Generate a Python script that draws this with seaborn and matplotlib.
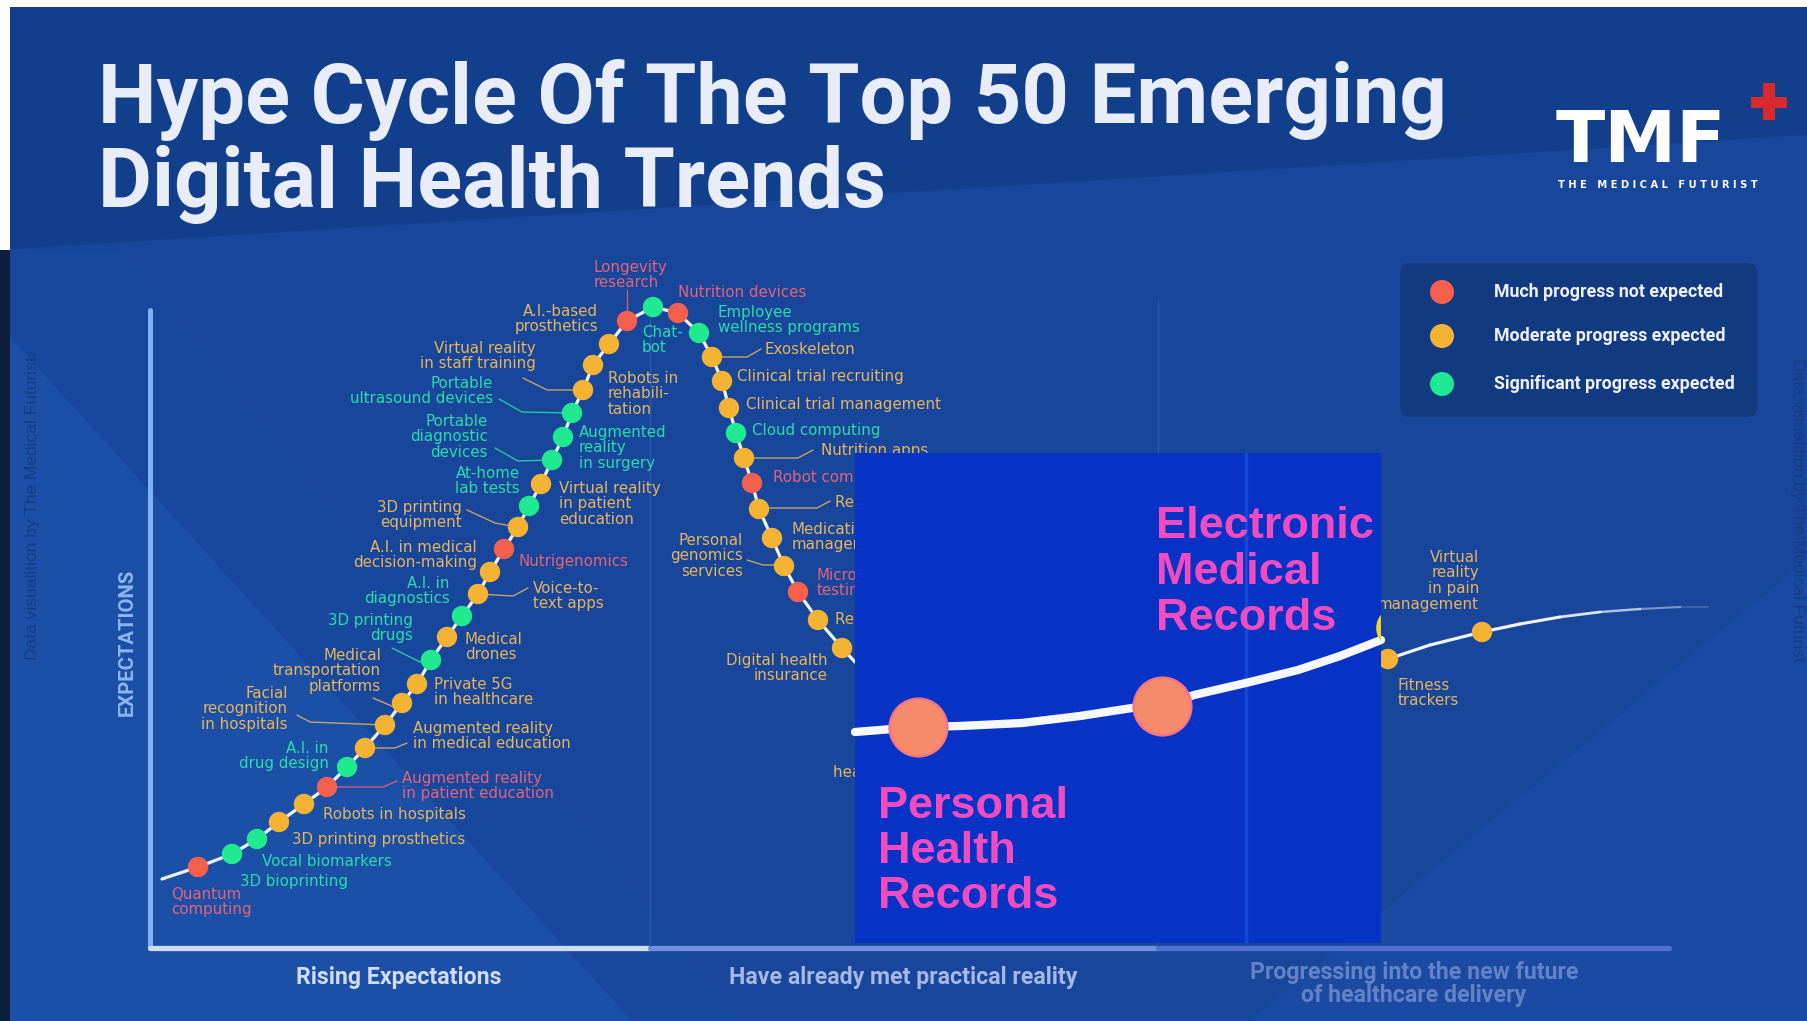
import numpy as np
import pandas as pd
import seaborn as sns
import matplotlib.pyplot as plt
from matplotlib.patches import Polygon, FancyBboxPatch, Rectangle
from matplotlib.collections import LineCollection

W, H = 1807, 1021

# --- trends on the hype curve (positions, image pixel space) ---
trend_names = [
    "Quantum computing", "3D bioprinting", "Vocal biomarkers", "3D printing prosthetics",
    "Robots in hospitals", "Augmented reality in patient education", "A.I. in drug design",
    "Augmented reality in medical education", "Facial recognition in hospitals",
    "Medical transportation platforms", "Private 5G in healthcare", "3D printing drugs",
    "Medical drones", "A.I. in diagnostics", "Voice-to-text apps",
    "A.I. in medical decision-making", "Nutrigenomics", "3D printing equipment",
    "At-home lab tests", "Virtual reality in patient education", "Portable diagnostic devices",
    "Augmented reality in surgery", "Portable ultrasound devices",
    "Virtual reality in staff training", "Robots in rehabilitation", "A.I.-based prosthetics",
    "Longevity research", "Chat-bot", "Nutrition devices", "Employee wellness programs",
    "Exoskeleton", "Clinical trial recruiting", "Clinical trial management", "Cloud computing",
    "Nutrition apps", "Robot companions", "Remote monitoring", "Medication management",
    "Personal genomics services", "Microbiome testing", "Remote care",
    "Digital health insurance", "Fitness trackers", "Virtual reality in pain management",
]
trend_x = [198, 232, 257, 279, 304, 327, 347, 365, 385, 402, 417, 431, 447, 462, 478,
           490, 504, 518, 529, 541, 552, 563, 572, 583, 593, 609, 627, 653, 678, 699,
           712, 722, 729, 736, 744, 752, 759, 772, 784, 798, 818, 842,
           1388, 1482]
trend_y = [867, 854, 839, 822, 804, 787, 767, 748, 725, 703, 684, 660, 637, 616, 594,
           572, 549, 527, 506, 484, 460, 437, 413, 390, 365, 344, 321, 307, 313, 333,
           357, 381, 408, 433, 458, 483, 509, 538, 566, 592, 620, 648,
           659, 632]
trend_status = ["low", "high", "high", "mid", "mid", "low", "high", "mid", "mid", "mid",
                "mid", "high", "mid", "high", "mid", "mid", "low", "mid", "high", "mid",
                "high", "high", "high", "mid", "mid", "mid", "low", "high", "low", "high",
                "mid", "mid", "mid", "high", "mid", "low", "mid", "mid", "mid", "low",
                "mid", "mid", "mid", "mid"]

# curve vertices that are not trends
curve_start = (162, 879)
curve_into_inset = (855, 662)
tail_x = [1381, 1388, 1430, 1482, 1520, 1560, 1600, 1640, 1680, 1708]
tail_y = [661, 659, 645, 632, 624, 617, 612, 609, 607, 607]

# pasted close-up
inset_names = ["Personal Health Records", "Electronic Medical Records"]
inset_x = [918, 1162]
inset_y = [727, 706]
inset_curve_x = [855, 880, 918, 960, 1022, 1080, 1132, 1162, 1194, 1250, 1298, 1340, 1381]
inset_curve_y = [732, 730, 727, 726, 723, 716, 708, 706, 695, 682, 670, 656, 640]

legend_status = ["low", "mid", "high"]
legend_labels = ["Much progress not expected", "Moderate progress expected",
                 "Significant progress expected"]

sections = ["Rising Expectations", "Have already met practical reality",
            "Progressing into the new future\nof healthcare delivery"]

# --- layout (label positions, leader lines) ---
LINE_H = 15.7
label_layout = [
    ("Quantum computing", "Quantum\ncomputing", 171, 894, "left"),
    ("3D bioprinting", "3D bioprinting", 240, 881, "left"),
    ("Vocal biomarkers", "Vocal biomarkers", 262, 861, "left"),
    ("3D printing prosthetics", "3D printing prosthetics", 292, 839, "left"),
    ("Robots in hospitals", "Robots in hospitals", 323, 814, "left"),
    ("Augmented reality in patient education", "Augmented reality\nin patient education", 402, 778, "left"),
    ("A.I. in drug design", "A.I. in\ndrug design", 329, 748, "right"),
    ("Augmented reality in medical education", "Augmented reality\nin medical education", 413, 728, "left"),
    ("Facial recognition in hospitals", "Facial\nrecognition\nin hospitals", 288, 693, "right"),
    ("Medical transportation platforms", "Medical\ntransportation\nplatforms", 381, 655, "right"),
    ("Private 5G in healthcare", "Private 5G\nin healthcare", 434, 684, "left"),
    ("3D printing drugs", "3D printing\ndrugs", 413, 620, "right"),
    ("Medical drones", "Medical\ndrones", 465, 639, "left"),
    ("A.I. in diagnostics", "A.I. in\ndiagnostics", 450, 583, "right"),
    ("Voice-to-text apps", "Voice-to-\ntext apps", 533, 588, "left"),
    ("A.I. in medical decision-making", "A.I. in medical\ndecision-making", 477, 547, "right"),
    ("Nutrigenomics", "Nutrigenomics", 519, 561, "left"),
    ("3D printing equipment", "3D printing\nequipment", 462, 507, "right"),
    ("At-home lab tests", "At-home\nlab tests", 520, 473, "right"),
    ("Virtual reality in patient education", "Virtual reality\nin patient\neducation", 559, 488, "left"),
    ("Portable diagnostic devices", "Portable\ndiagnostic\ndevices", 488, 421, "right"),
    ("Augmented reality in surgery", "Augmented\nreality\nin surgery", 579, 432, "left"),
    ("Portable ultrasound devices", "Portable\nultrasound devices", 493, 383, "right"),
    ("Virtual reality in staff training", "Virtual reality\nin staff training", 536, 348, "right"),
    ("Robots in rehabilitation", "Robots in\nrehabili-\ntation", 608, 378, "left"),
    ("A.I.-based prosthetics", "A.I.-based\nprosthetics", 598, 311, "right"),
    ("Longevity research", "Longevity\nresearch", 594, 267, "left"),
    ("Chat-bot", "Chat-\nbot", 642, 332, "left"),
    ("Nutrition devices", "Nutrition devices", 678, 292, "left"),
    ("Employee wellness programs", "Employee\nwellness programs", 718, 312, "left"),
    ("Exoskeleton", "Exoskeleton", 765, 349, "left"),
    ("Clinical trial recruiting", "Clinical trial recruiting", 737, 376, "left"),
    ("Clinical trial management", "Clinical trial management", 746, 404, "left"),
    ("Cloud computing", "Cloud computing", 752, 430, "left"),
    ("Nutrition apps", "Nutrition apps", 821, 450, "left"),
    ("Robot companions", "Robot companions", 773, 477, "left"),
    ("Remote monitoring", "Remote monitoring", 835, 502, "left"),
    ("Medication management", "Medication\nmanagement", 792, 529, "left"),
    ("Personal genomics services", "Personal\ngenomics\nservices", 743, 540, "right"),
    ("Microbiome testing", "Microbiome\ntesting", 817, 575, "left"),
    ("Remote care", "Remote care", 835, 619, "left"),
    ("Digital health insurance", "Digital health\ninsurance", 828, 660, "right"),
    ("health apps", "health apps", 833, 772, "left"),
    ("Fitness trackers", "Fitness\ntrackers", 1398, 685, "left"),
    ("Virtual reality in pain management", "Virtual\nreality\nin pain\nmanagement", 1479, 557, "right"),
]
leader_paths = {
    "Augmented reality in patient education": [(327, 787), (383, 787), (397, 781)],
    "Augmented reality in medical education": [(365, 748), (395, 748), (407, 743)],
    "Facial recognition in hospitals": [(297, 715), (310, 722), (385, 725)],
    "Medical transportation platforms": [(373, 698), (394, 707), (402, 703)],
    "3D printing drugs": [(392, 648), (420, 662), (431, 660)],
    "Voice-to-text apps": [(478, 594), (513, 596), (528, 588)],
    "3D printing equipment": [(467, 510), (495, 523), (517, 527)],
    "Portable diagnostic devices": [(495, 448), (518, 461), (552, 460)],
    "Portable ultrasound devices": [(499, 399), (522, 412), (572, 413)],
    "Virtual reality in staff training": [(523, 378), (547, 390), (583, 390)],
    "Longevity research": [(627, 290), (627, 315)],
    "Exoskeleton": [(712, 357), (747, 357), (761, 349)],
    "Nutrition apps": [(744, 458), (798, 458), (813, 450)],
    "Remote monitoring": [(759, 508), (817, 508), (830, 501)],
    "Personal genomics services": [(747, 560), (763, 565), (784, 565)],
}

POINT_COLORS = {"low": "#f5604e", "mid": "#f5b334", "high": "#20ea90"}
LABEL_COLORS = {"low": "#e4637a", "mid": "#e7b55c", "high": "#2bdcab"}
BG_MAIN = "#17469b"

sns.set_theme(style="white")
plt.rcParams["font.family"] = ["DejaVu Sans"]

fig = plt.figure(figsize=(W / 100, H / 100), dpi=100)
fig.patch.set_facecolor(BG_MAIN)
ax = fig.add_axes([0, 0, 1, 1])
ax.set_xlim(0, W)
ax.set_ylim(H, 0)
ax.axis("off")
renderer = fig.canvas.get_renderer()


def fit_width(txt, width):
    w = txt.get_window_extent(renderer=renderer).width
    txt.set_fontsize(txt.get_fontsize() * width / w)
    return txt


# --- background shapes ---
ax.add_patch(Polygon([(0, 0), (W, 0), (W, 135), (0, 250)], fc="#123f8c", ec="none", zorder=0))
ax.add_patch(Polygon([(10, 250), (119, 250), (736, H), (10, H)], fc="#18489e", ec="none", zorder=0))
ax.add_patch(Polygon([(10, 337), (10, H), (632, H)], fc="#1c4fa6", ec="none", zorder=0))
ax.add_patch(Polygon([(1250, H), (W, 560), (W, H)], fc="#1a4aa1", ec="none", zorder=0))
ax.add_patch(Rectangle((0, 0), W, 7, fc="white", ec="none", zorder=20))
ax.add_patch(Rectangle((0, 0), 10, 250, fc="white", ec="none", zorder=20))
ax.add_patch(Rectangle((0, 250), 10, H - 250, fc="#0d1d3d", ec="none", zorder=20))

# --- axes of the hype cycle ---
ax.plot([150, 150], [310, 948], color="#7db1f5", lw=3.6, solid_capstyle="round", zorder=1)
for x0, x1, c in [(150, 650, "#cfdcf6"), (650, 1158, "#6e92de"), (1158, 1669, "#4f73cf")]:
    ax.plot([x0, x1], [948, 948], color=c, lw=3.8, solid_capstyle="round", zorder=1)
ax.plot([650, 650], [300, 946], color="#2a5aab", lw=1.0, zorder=1)
ax.plot([1158, 1158], [300, 946], color="#2a5aab", lw=1.0, zorder=1)

ax.text(33, 508, "Data visualition by The Medical Futurist", rotation=90, ha="center",
        va="center", color="#143d86", fontsize=12.5, family="Liberation Sans", zorder=2)
ax.text(1798, 510, "Data visualition by The Medical Futurist", rotation=-90, ha="center",
        va="center", color="#143d86", fontsize=12.5, family="Liberation Sans", zorder=2)
exp = ax.text(127, 642, "EXPECTATIONS", ha="center", va="center", color="#8ab6f2",
              fontsize=14, fontweight="bold", family="Roboto", zorder=2)
fit_width(exp, 148)
exp.set_rotation(90)

# --- curve ---
curve_x = [curve_start[0]] + trend_x[:42] + [curve_into_inset[0]]
curve_y = [curve_start[1]] + trend_y[:42] + [curve_into_inset[1]]
sns.lineplot(x=curve_x, y=curve_y, sort=False, estimator=None, color="#eef3ff", lw=2.3,
             ax=ax, zorder=2)
segs = [[(tail_x[i], tail_y[i]), (tail_x[i + 1], tail_y[i + 1])] for i in range(len(tail_x) - 1)]
alphas = [1, 1, 1, 1, 1, 0.9, 0.7, 0.45, 0.2]
widths = [2.3, 2.3, 2.3, 2.3, 2.2, 2.0, 1.8, 1.5, 1.2]
ax.add_collection(LineCollection(segs, colors=[(0.94, 0.96, 1, a) for a in alphas],
                                 linewidths=widths, capstyle="round", zorder=2))

# leader lines
status_of = dict(zip(trend_names, trend_status))
for name, path in leader_paths.items():
    px, py = zip(*path)
    ax.plot(px, py, color=LABEL_COLORS[status_of[name]], lw=1.0, alpha=0.85, zorder=2)

trends = pd.DataFrame({"name": trend_names, "x": trend_x, "y": trend_y, "status": trend_status})
sns.scatterplot(data=trends, x="x", y="y", hue="status", palette=POINT_COLORS, s=215,
                edgecolor="none", legend=False, ax=ax, zorder=3)

for name, text, x, y, ha in label_layout:
    color = LABEL_COLORS[status_of.get(name, "mid")]
    for k, line in enumerate(text.split("\n")):
        ax.text(x, y + k * LINE_H, line, ha=ha, va="center", color=color, fontsize=10.8,
                zorder=4)

# --- pasted close-up on top ---
inset_rect = Rectangle((855, 453), 526, 490, fc="#0633c6", ec="none", zorder=10)
ax.add_patch(inset_rect)
ax.plot([1246, 1246], [453, 943], color="#1546d6", lw=2.5, zorder=10)
sns.lineplot(x=inset_curve_x, y=inset_curve_y, sort=False, estimator=None, color="#f6f9ff",
             lw=6, ax=ax, zorder=11)
cut = ax.scatter([1397], [628], s=900, color="#f3d22a", edgecolor="none", zorder=11)
cut.set_clip_path(inset_rect)
inset = pd.DataFrame({"name": inset_names, "x": inset_x, "y": inset_y})
sns.scatterplot(data=inset, x="x", y="y", color="#f88a6c", s=1750, edgecolor="#f2708a",
                linewidth=1.5, legend=False, ax=ax, zorder=12)
for k, line in enumerate(["Personal", "Health", "Records"]):
    ax.text(878, 818 + k * 45, line, ha="left", va="baseline", color="#f04cc0", fontsize=32.5,
            fontweight="bold", family="Liberation Sans", zorder=13)
for k, line in enumerate(["Electronic", "Medical", "Records"]):
    ax.text(1156, 538 + k * 46, line, ha="left", va="baseline", color="#f04cc0", fontsize=32.5,
            fontweight="bold", family="Liberation Sans", zorder=13,
            clip_on=True).set_clip_path(inset_rect)

# --- legend ---
ax.add_patch(FancyBboxPatch((1400, 263), 357, 154, boxstyle="round,pad=0,rounding_size=10",
                            fc="#123a80", ec="none", zorder=5))
leg = pd.DataFrame({"status": legend_status, "x": [1442, 1442, 1442], "y": [292, 336, 384]})
sns.scatterplot(data=leg, x="x", y="y", hue="status", palette=POINT_COLORS, s=300,
                edgecolor="none", legend=False, ax=ax, zorder=6)
leg_size = None
for yy, lab in zip(leg["y"], legend_labels):
    t = ax.text(1494, yy, lab, ha="left", va="center", color="#eef2ff", fontsize=12,
                fontweight="bold", family="Roboto", zorder=6)
    if leg_size is None:
        fit_width(t, 228)
        leg_size = t.get_fontsize()
    t.set_fontsize(leg_size)

# --- title and logo ---
t1 = ax.text(98, 123, "Hype Cycle Of The Top 50 Emerging", ha="left", va="baseline",
             color="#e9edfa", fontsize=58, fontweight="bold", family="Roboto", zorder=6)
fit_width(t1, 1348)
ax.text(98, 207, "Digital Health Trends", ha="left", va="baseline", color="#e9edfa",
        fontsize=t1.get_fontsize(), fontweight="bold", family="Roboto", zorder=6)

ax.text(1556, 162, "TMF", ha="left", va="baseline", color="white", fontsize=52,
        fontweight="bold", family="DejaVu Sans", zorder=6)
ax.add_patch(Rectangle((1751, 97), 36, 11, fc="#d62a2c", ec="none", zorder=6))
ax.add_patch(Rectangle((1763, 83), 12, 37, fc="#d62a2c", ec="none", zorder=6))
sub = ax.text(1558, 185, "T H E   M E D I C A L   F U T U R I S T", ha="left", va="center",
              color="white", fontsize=6.5, fontweight="bold", zorder=6)
fit_width(sub, 199)

# --- section captions ---
s1 = ax.text(399, 977, sections[0], ha="center", va="center", color="#d0dcf5", fontsize=14,
             fontweight="bold", family="Roboto", zorder=6)
fit_width(s1, 206)
s2 = ax.text(903, 977, sections[1], ha="center", va="center", color="#a3b8e6", fontsize=14,
             fontweight="bold", family="Roboto", zorder=6)
fit_width(s2, 349)
for k, line in enumerate(sections[2].split("\n")):
    ax.text(1414, 972 + k * 23, line, ha="center", va="center", color="#6383c9",
            fontsize=s2.get_fontsize(), fontweight="bold", family="Roboto", zorder=6)

fig.savefig("out.png", dpi=100, facecolor=fig.get_facecolor())
